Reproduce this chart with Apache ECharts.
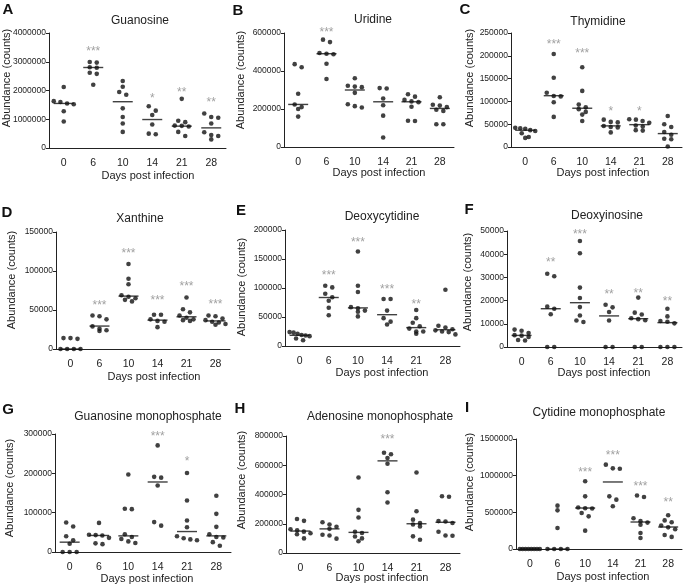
<!DOCTYPE html>
<html><head><meta charset="utf-8">
<script src="https://cdn.jsdelivr.net/npm/echarts@6/dist/echarts.min.js"></script>
<style>html,body{margin:0;padding:0;background:#fff}#c{width:685px;height:586px}</style>
</head><body><div id="c"></div>
<script>
const days = ['0', '6', '10', '14', '21', '28'];

const guanosine = [[2.12e6,1.63e6,1.6e6,1.55e6,1.52e6,1.28e6,0.92e6],[2.99e6,2.97e6,2.81e6,2.79e6,2.62e6,2.58e6,2.2e6],[2.33e6,2.13e6,1.95e6,1.85e6,1.38e6,1.08e6,0.85e6,0.56e6],[1.45e6,1.3e6,1.15e6,0.82e6,0.5e6,0.48e6],[1.71e6,0.95e6,0.9e6,0.78e6,0.77e6,0.75e6,0.56e6,0.42e6],[1.2e6,1.08e6,1.05e6,0.85e6,0.55e6,0.45e6,0.42e6,0.3e6]];
const guanosineMedian = [1.55e6, 2.8e6, 1.61e6, 0.99e6, 0.76e6, 0.7e6];
const guanosineStars = ['', '***', '', '*', '**', '**'];
const guanosineStarY = [null, 3.45e6, null, 1.82e6, 2.04e6, 1.67e6];

const uridine = [[436e3,420e3,280e3,224e3,210e3,200e3,160e3],[565e3,552e3,495e3,491e3,488e3,438e3,358e3],[362e3,322e3,318e3,315e3,285e3,225e3,215e3,208e3],[310e3,308e3,255e3,220e3,165e3,50e3],[278e3,265e3,248e3,240e3,236e3,212e3,138e3,137e3],[262e3,222e3,218e3,210e3,196e3,190e3,120e3,120e3]];
const uridineMedian = [224e3, 491e3, 300e3, 238e3, 238e3, 203e3];
const uridineStars = ['', '***', '', '', '', ''];
const uridineStarY = [null, 618e3, null, null, null, null];

const thymidine = [[42e3,41e3,40e3,37e3,35e3,30e3,22e3,20e3],[204e3,152e3,119e3,112e3,111e3,98e3,66e3],[175e3,123e3,93e3,87e3,83e3,77e3,71e3,57e3],[60e3,55e3,54e3,46e3,44e3,43e3,32e3],[61e3,60e3,57e3,53e3,47e3,45e3,37e3,36e3],[68e3,50e3,44e3,33e3,27e3,18e3,17e3,1e3]];
const thymidineMedian = [36.8e3, 112.5e3, 85e3, 46.3e3, 49e3, 29.4e3];
const thymidineStars = ['', '***', '***', '*', '*', ''];
const thymidineStarY = [null, 232e3, 211e3, 85e3, 84.5e3, null];

const xanthine = [[14e3,13e3,14e3,0,0,0,0],[43e3,42e3,38e3,29e3,26e3,24e3,23e3],[109e3,90e3,83e3,69e3,67e3,65e3,63e3,61e3],[44e3,44e3,38e3,36e3,35e3,28e3],[66e3,51e3,47e3,43e3,40e3,38e3,37e3,36e3],[43e3,42e3,39e3,37e3,35e3,34e3,32e3,31e3]];
const xanthineMedian = [0, 29.4e3, 67.8e3, 37e3, 41.3e3, 36e3];
const xanthineStars = ['', '***', '***', '***', '***', '***'];
const xanthineStarY = [null, 59.7e3, 126.6e3, 66e3, 84e3, 60.5e3];

const deoxycytidine = [[24e3,23e3,21e3,19e3,18e3,17e3,13e3,10e3],[104e3,101e3,90e3,84e3,78e3,66e3,53e3],[163e3,104e3,93e3,67e3,65e3,61e3,59e3,51e3],[81e3,81e3,61e3,48e3,42e3,37e3],[62e3,48e3,40e3,34e3,30e3,25e3,25e3,21e3],[97e3,35e3,32e3,29e3,27e3,25e3,24e3,20e3]];
const deoxycytidineMedian = [18.4e3, 83.6e3, 65.7e3, 54e3, 31.7e3, 28e3];
const deoxycytidineStars = ['', '***', '***', '***', '**', ''];
const deoxycytidineStarY = [null, 126e3, 183e3, 103e3, 76e3, null];

const deoxyinosine = [[7.5e3,7e3,6e3,5.1e3,4.9e3,4.3e3,3e3,2.8e3],[31.6e3,30.5e3,17.4e3,16.5e3,14.1e3,0,0],[45.7e3,40.4e3,25.6e3,21.1e3,17.2e3,13.6e3,11.4e3,10.8e3],[18.2e3,17.1e3,15.1e3,11.4e3,0,0],[21.3e3,14.8e3,14e3,12.4e3,12e3,11.5e3,0,0],[16.5e3,13.2e3,11.2e3,10.9e3,10.2e3,0,0,0]];
const deoxyinosineMedian = [5e3, 16.5e3, 19.1e3, 13.4e3, 12.2e3, 10.5e3];
const deoxyinosineStars = ['', '**', '***', '**', '**', '**'];
const deoxyinosineStarY = [null, 37.6e3, 49.9e3, 24e3, 24.4e3, 21e3];

const gmp = [[75e3,65e3,40e3,30e3,21e3,0,0,0],[74e3,44e3,43e3,42e3,36e3,22e3,20e3],[197e3,110e3,109e3,45e3,38e3,33e3,27e3,23e3],[271e3,191e3,189e3,169e3,76e3,67e3],[201e3,131e3,80e3,63e3,40e3,35e3,32e3,30e3],[143e3,97e3,64e3,45e3,38e3,37e3,25e3,16e3]];
const gmpMedian = [25e3, 42e3, 41e3, 178e3, 52e3, 41e3];
const gmpStars = ['', '', '', '***', '*', ''];
const gmpStarY = [null, null, null, 302e3, 236e3, null];

const amp = [[232e3,220e3,162e3,155e3,146e3,135e3,128e3,100e3],[210e3,195e3,180e3,165e3,125e3,120e3,98e3],[516e3,295e3,243e3,145e3,137e3,113e3,100e3,80e3],[685e3,675e3,650e3,610e3,415e3,345e3],[550e3,285e3,228e3,205e3,195e3,182e3,114e3,91e3],[388e3,385e3,218e3,215e3,205e3,145e3,120e3,118e3]];
const ampMedian = [150e3, 165e3, 141e3, 630e3, 200e3, 210e3];
const ampStars = ['', '', '', '***', '', ''];
const ampStarY = [null, null, null, 795e3, null, null];

const cmp = [[0,0,0,0,0,0,0,0],[591e3,527e3,286e3,0,0,0,0],[923e3,718e3,565e3,555e3,553e3,491e3,445e3,250e3],[1150e3,1100e3,1095e3,718e3,673e3,582e3],[730e3,710e3,420e3,380e3,360e3,330e3,218e3,150e3],[460e3,390e3,365e3,320e3,295e3,270e3,190e3,165e3]];
const cmpMedian = [0, 0, 559e3, 914e3, 368e3, 300e3];
const cmpStars = ['', '', '***', '***', '***', '**'];
const cmpStarY = [null, null, 1.08e6, 1.31e6, 891e3, 672e3];

const yMax = [4e6, 6e5, 2.5e5, 1.5e5, 2e5, 5e4, 3e5, 8e5, 1.5e6];
const yStep = [1e6, 2e5, 5e4, 5e4, 5e4, 1e4, 1e5, 2e5, 5e5];

const FONT = '"Liberation Sans", Arial, Helvetica, sans-serif';

const panels = [
  {letter:'A', title:'Guanosine', d:guanosine, m:guanosineMedian, s:guanosineStars, sy:guanosineStarY,
   grid:{left:49, top:33, width:177, height:115}, lp:[8,10], tp:[140,21], xn:[148,176], yn:[7,78]},
  {letter:'B', title:'Uridine', d:uridine, m:uridineMedian, s:uridineStars, sy:uridineStarY,
   grid:{left:284, top:33, width:170, height:114}, lp:[238,11], tp:[373,20], xn:[379,173], yn:[241,80]},
  {letter:'C', title:'Thymidine', d:thymidine, m:thymidineMedian, s:thymidineStars, sy:thymidineStarY,
   grid:{left:511, top:33, width:171, height:114}, lp:[465,10], tp:[598,22], xn:[603,173], yn:[470,78]},
  {letter:'D', title:'Xanthine', d:xanthine, m:xanthineMedian, s:xanthineStars, sy:xanthineStarY,
   grid:{left:56, top:232, width:174, height:117}, lp:[7,213], tp:[140,219], xn:[154,377], yn:[12,280]},
  {letter:'E', title:'Deoxycytidine', d:deoxycytidine, m:deoxycytidineMedian, s:deoxycytidineStars, sy:deoxycytidineStarY,
   grid:{left:285, top:230, width:175, height:116}, lp:[241,211], tp:[382,217], xn:[382,373], yn:[242,287]},
  {letter:'F', title:'Deoxyinosine', d:deoxyinosine, m:deoxyinosineMedian, s:deoxyinosineStars, sy:deoxyinosineStarY,
   grid:{left:507, top:231, width:175, height:116}, lp:[469,210], tp:[607,216], xn:[604,373], yn:[468,282]},
  {letter:'G', title:'Guanosine monophosphate', d:gmp, m:gmpMedian, s:gmpStars, sy:gmpStarY,
   grid:{left:55, top:434, width:176, height:118}, lp:[8,410], tp:[148,417], xn:[147,579], yn:[10,488]},
  {letter:'H', title:'Adenosine monophosphate', d:amp, m:ampMedian, s:ampStars, sy:ampStarY,
   grid:{left:286, top:436, width:174, height:117}, lp:[240,409], tp:[380,417], xn:[382,578], yn:[242,480]},
  {letter:'I', title:'Cytidine monophosphate', d:cmp, m:cmpMedian, s:cmpStars, sy:cmpStarY,
   grid:{left:516, top:439, width:166, height:110}, lp:[467,408], tp:[599,413], xn:[603,577], yn:[470,482]}
];

function jitter(values, max, h) {
  const idx = values.map((v, i) => i).sort((a, b) => values[b] - values[a]);
  const off = new Array(values.length).fill(0);
  const rows = []; let cur = []; let startPy = 0;
  idx.forEach(k => {
    const py = values[k] / max * h;
    if (cur.length && startPy - py < 4.5) cur.push(k);
    else { if (cur.length) rows.push(cur); cur = [k]; startPy = py; }
  });
  if (cur.length) rows.push(cur);
  rows.forEach(r => {
    const n = r.length;
    const sp = n > 1 ? Math.min(7, 20 / (n - 1)) : 0;
    r.forEach((k, j) => { off[k] = (j - (n - 1) / 2) * sp; });
  });
  return off;
}

const grids = [], xAxes = [], yAxes = [], series = [], graphics = [];
panels.forEach((p, i) => {
  grids.push(Object.assign({containLabel:false}, p.grid));
  xAxes.push({
    type:'category', gridIndex:i, data:days, boundaryGap:true,
    axisLine:{lineStyle:{color:'#222', width:1}},
    axisTick:{alignWithLabel:true, length:3, lineStyle:{color:'#222'}},
    axisLabel:{fontSize:10.5, color:'#222', margin:10, fontFamily:FONT}
  });
  yAxes.push({
    type:'value', gridIndex:i, min:0, max:yMax[i], interval:yStep[i],
    splitLine:{show:false},
    axisLine:{show:true, lineStyle:{color:'#222', width:1}},
    axisTick:{show:true, length:3, lineStyle:{color:'#222'}},
    axisLabel:{fontSize:8.5, color:'#222', margin:3, fontFamily:FONT, formatter:v => String(v)}
  });
  const dots = [];
  p.d.forEach((vals, c) => {
    const off = jitter(vals, yMax[i], p.grid.height);
    vals.forEach((v, k) => dots.push({value:[c, v], symbolOffset:[off[k], 0]}));
  });
  series.push({type:'scatter', xAxisIndex:i, yAxisIndex:i, symbol:'circle', symbolSize:4.6,
    itemStyle:{color:'#111'}, data:dots, silent:true, clip:false, z:3});
  series.push({type:'scatter', xAxisIndex:i, yAxisIndex:i, symbol:'rect', symbolSize:[20,1.4],
    itemStyle:{color:'#111'}, data:p.m.map((v, c) => [c, v]), silent:true, clip:false, z:4});
  const st = [];
  p.s.forEach((t, c) => { if (t) st.push({value:[c, p.sy[c]], name:t}); });
  series.push({type:'scatter', xAxisIndex:i, yAxisIndex:i, symbol:'circle', symbolSize:1,
    itemStyle:{color:'rgba(0,0,0,0)'}, data:st, silent:true, clip:false, z:5,
    label:{show:true, position:'inside', formatter:'{b}', color:'#888', fontSize:12, fontFamily:FONT, offset:[0,3]}});

  graphics.push({type:'text', x:p.lp[0], y:p.lp[1], style:{text:p.letter, fill:'#111', font:'bold 15px ' + FONT, textAlign:'center', textVerticalAlign:'middle'}});
  graphics.push({type:'text', x:p.tp[0], y:p.tp[1], style:{text:p.title, fill:'#222', font:'12px ' + FONT, textAlign:'center', textVerticalAlign:'middle'}});
  graphics.push({type:'text', x:p.xn[0], y:p.xn[1], style:{text:'Days post infection', fill:'#222', font:'11px ' + FONT, textAlign:'center', textVerticalAlign:'middle'}});
  graphics.push({type:'text', x:p.yn[0], y:p.yn[1], rotation:Math.PI / 2, style:{text:'Abundance (counts)', fill:'#222', font:'11px ' + FONT, textAlign:'center', textVerticalAlign:'middle'}});
});

const chart = echarts.init(document.getElementById('c'), null, {renderer:'canvas'});
chart.setOption({
  backgroundColor:'#fff', animation:false,
  grid:grids, xAxis:xAxes, yAxis:yAxes, series:series, graphic:graphics
});
</script></body></html>
